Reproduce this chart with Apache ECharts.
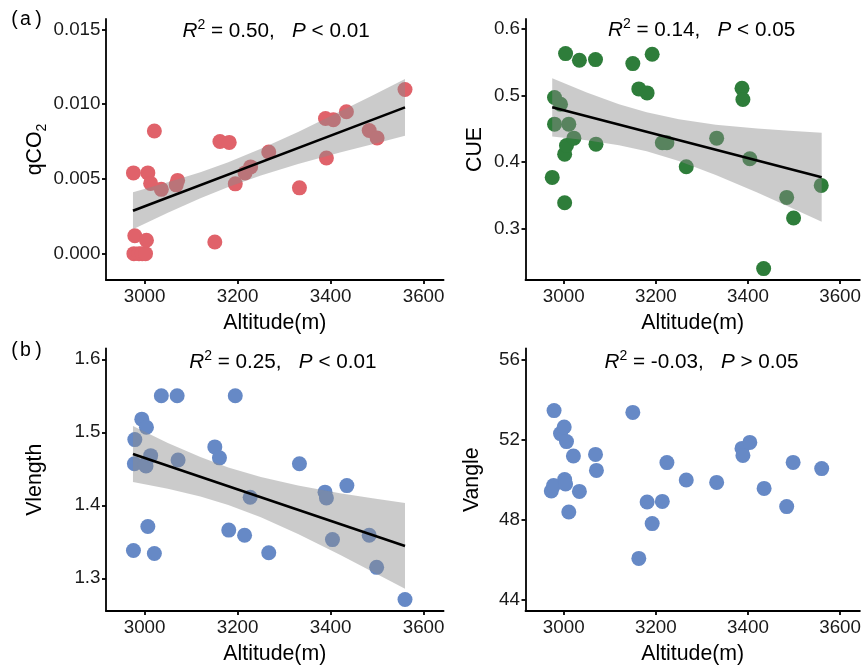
<!DOCTYPE html>
<html><head><meta charset="utf-8">
<script src="https://cdn.jsdelivr.net/npm/echarts@6/dist/echarts.min.js"></script>
<style>html,body{margin:0;padding:0;background:#fff}#c{width:864px;height:667px}</style>
</head><body><div id="c"></div>
<script>
// ---------- data ----------
const xTicks = [3000, 3200, 3400, 3600];

const altQ = [2976,2979,2977,2988,2995,3002,3004,3007,3013,3021,3036,3068,3071,3151,3162,3182,3195,3216,3228,3267,3333,3389,3391,3406,3434,3483,3500,3560];
const qco2 = [0.0054,0.0012,0.0000,0.0000,0.0000,0.0000,0.0009,0.0054,0.0047,0.0082,0.0043,0.0046,0.0049,0.00078,0.0075,0.00744,0.00467,0.0054,0.0058,0.0068,0.0044,0.00904,0.0064,0.00896,0.00949,0.00824,0.00773,0.01098];

const altC = [2975,2980,2980,2993,3002,3002,3004,3006,3011,3022,3034,3069,3070,3150,3163,3181,3192,3214,3224,3266,3332,3387,3389,3404,3434,3484,3499,3559];
const cue  = [0.377,0.497,0.457,0.487,0.412,0.339,0.563,0.425,0.457,0.436,0.553,0.554,0.427,0.548,0.510,0.504,0.562,0.429,0.429,0.393,0.436,0.511,0.494,0.405,0.240,0.347,0.316,0.365];

const altV = [2976,2978,2979,2994,3001,3003,3004,3007,3013,3021,3036,3070,3072,3151,3161,3181,3195,3215,3227,3267,3333,3388,3391,3404,3435,3483,3499,3560];
const vlength = [1.338,1.457,1.490,1.518,1.456,1.454,1.507,1.371,1.468,1.334,1.550,1.550,1.462,1.480,1.465,1.366,1.550,1.359,1.411,1.335,1.457,1.418,1.410,1.353,1.427,1.359,1.315,1.271];

const altG = [2973,2978,2979,2993,3001,3002,3004,3006,3011,3021,3034,3069,3071,3150,3163,3181,3192,3214,3224,3266,3332,3387,3389,3404,3435,3484,3498,3560];
const vangle = [49.45,49.72,53.47,52.32,52.65,50.02,49.80,51.92,48.40,51.20,49.43,51.28,50.48,53.38,46.08,48.90,47.82,48.93,50.87,50.00,49.88,51.58,51.23,51.88,49.58,48.67,50.88,50.57];

// fitted lines (end points) and confidence bands
const fitX = [2975, 3560];
const qFit = [0.00287, 0.00978];
const cFit = [0.4823, 0.3772];
const vFit = [1.4703, 1.3443];

const bandX = [2975,3050,3120,3180,3250,3330,3420,3490,3560];
const qLo = [0.00163,0.00274,0.00371,0.00446,0.00523,0.00599,0.00676,0.00732,0.00788];
const qHi = [0.00411,0.00478,0.00545,0.00612,0.00701,0.00813,0.00950,0.01058,0.01168];
const cLo = [0.4386,0.4330,0.4255,0.4162,0.4015,0.3807,0.3542,0.3325,0.3103];
const cHi = [0.5260,0.5046,0.4871,0.4748,0.4643,0.4563,0.4504,0.4471,0.4441];
const vLo = [1.4319,1.4227,1.4121,1.4004,1.3836,1.3606,1.3322,1.3091,1.2856];
const vHi = [1.5087,1.4855,1.4661,1.4518,1.4386,1.4270,1.4166,1.4097,1.4030];

const qTicks = [0, 0.005, 0.010, 0.015];
const cTicks = [0.3, 0.4, 0.5, 0.6];
const vTicks = [1.3, 1.4, 1.5, 1.6];
const gTicks = [44, 48, 52, 56];

const annR2 = ['0.50', '0.14', '0.25', '-0.03'];
const annP  = ['< 0.01', '< 0.05', '< 0.01', '> 0.05'];
const panelLabels = ['a', 'b'];

// ---------- chart ----------
const FONT = 'Liberation Sans, Arial, Helvetica, sans-serif';
const chart = echarts.init(document.getElementById('c'), null, {renderer: 'canvas'});

const GW = 337.6;
const grids = [
  {left: 106,   top: 19,    width: GW, height: 261},
  {left: 525.5, top: 19,    width: GW, height: 261},
  {left: 106,   top: 348.5, width: GW, height: 262.5},
  {left: 525.5, top: 348.5, width: GW, height: 262.5}
];

const axisLineStyle = {color: '#000', width: 1.8};

function xAxisCfg(i) {
  return {
    type: 'value', gridIndex: i, min: 2917, max: 3643,
    axisLine: {show: true, onZero: false, lineStyle: axisLineStyle},
    axisTick: {show: true, length: 4, customValues: xTicks, lineStyle: axisLineStyle},
    axisLabel: {customValues: xTicks, fontSize: 18.8, color: '#1a1a1a', margin: 7, fontFamily: FONT,
      formatter: v => String(Math.round(v))},
    splitLine: {show: false},
    name: 'Altitude(m)', nameLocation: 'middle', nameGap: 32.5,
    nameTextStyle: {fontSize: 21.3, color: '#000', fontFamily: FONT}
  };
}
function yAxisCfg(i, min, max, ticks, dec, name, gap) {
  return {
    type: 'value', gridIndex: i, min: min, max: max,
    axisLine: {show: true, onZero: false, lineStyle: axisLineStyle},
    axisTick: {show: true, length: 4, customValues: ticks, lineStyle: axisLineStyle},
    axisLabel: {customValues: ticks, fontSize: 18.8, color: '#1a1a1a', margin: 5.5, fontFamily: FONT,
      formatter: v => v.toFixed(dec)},
    splitLine: {show: false},
    name: name, nameLocation: 'middle', nameGap: gap, nameRotate: 90,
    nameTextStyle: {fontSize: 21.3, color: '#000', fontFamily: FONT,
      rich: {n: {fontSize: 21.3, fontFamily: FONT, color: '#000'},
             s: {fontSize: 14, fontFamily: FONT, color: '#000', verticalAlign: 'bottom', padding: [14, 0, 0, 0]}}}
  };
}

function zip(xs, ys) { return xs.map((x, k) => [x, ys[k]]); }

function scatter(i, xs, ys, color) {
  return {type: 'scatter', xAxisIndex: i, yAxisIndex: i, data: zip(xs, ys),
    symbolSize: 15, itemStyle: {color: color, opacity: 1}, z: 2, silent: true};
}
function band(i, lo, hi) {
  return {type: 'custom', xAxisIndex: i, yAxisIndex: i, z: 3, silent: true,
    data: [[bandX[0], lo[0]]],
    renderItem: function (params, api) {
      const pts = [];
      for (let k = 0; k < bandX.length; k++) pts.push(api.coord([bandX[k], hi[k]]));
      for (let k = bandX.length - 1; k >= 0; k--) pts.push(api.coord([bandX[k], lo[k]]));
      return {type: 'polygon', shape: {points: pts}, style: {fill: 'rgba(140,140,140,0.45)'}};
    }};
}
function fit(i, ys) {
  return {type: 'line', xAxisIndex: i, yAxisIndex: i, data: zip(fitX, ys), showSymbol: false,
    lineStyle: {color: '#000', width: 2.5}, z: 4, silent: true};
}

function annText(k, x, y) {
  return {type: 'text', x: x, y: y, silent: true,
    style: {
      text: '{i|R}{s|2}{n| = ' + annR2[k] + ',   }{i|P}{n| ' + annP[k] + '}',
      verticalAlign: 'middle', align: 'left',
      rich: {
        i: {fontSize: 20.7, fontStyle: 'italic', fontFamily: FONT, fill: '#000', lineHeight: 26},
        n: {fontSize: 20.7, fontFamily: FONT, fill: '#000', lineHeight: 26},
        s: {fontSize: 14, fontFamily: FONT, fill: '#000', verticalAlign: 'top', lineHeight: 14}
      }
    }};
}
function panelLabel(k, y) {
  const st = {fontSize: 19.5, fontFamily: FONT, fill: '#000', verticalAlign: 'middle'};
  return [
    {type: 'text', x: 11.3, y: y, silent: true, style: Object.assign({text: '('}, st)},
    {type: 'text', x: 19.9, y: y, silent: true, style: Object.assign({text: panelLabels[k]}, st)},
    {type: 'text', x: 35.2, y: y, silent: true, style: Object.assign({text: ')'}, st)}
  ];
}

const option = {
  backgroundColor: '#fff',
  animation: false,
  grid: grids.map(g => Object.assign({containLabel: false}, g)),
  xAxis: [0, 1, 2, 3].map(xAxisCfg),
  yAxis: [
    yAxisCfg(0, -0.00176, 0.01569, qTicks, 3, '{n|qCO}{s|2}', 55.5),
    yAxisCfg(1, 0.2229, 0.615, cTicks, 1, 'CUE', 40),
    yAxisCfg(2, 1.2552, 1.6148, vTicks, 1, 'Vlength', 60),
    yAxisCfg(3, 43.45, 56.575, gTicks, 0, 'Vangle', 42.5)
  ],
  series: [
    scatter(0, altQ, qco2, '#E0626A'),
    band(0, qLo, qHi), fit(0, qFit),
    scatter(1, altC, cue, '#2E7D3A'),
    band(1, cLo, cHi), fit(1, cFit),
    scatter(2, altV, vlength, '#6689C6'),
    band(2, vLo, vHi), fit(2, vFit),
    scatter(3, altG, vangle, '#6689C6')
  ],
  graphic: [
    annText(0, 182.5, 31.5),
    annText(1, 608, 30.5),
    annText(2, 189.3, 361.8),
    annText(3, 604.5, 361.8)
  ].concat(panelLabel(0, 20), panelLabel(1, 350.8))
};
chart.setOption(option);
</script>
</body></html>
